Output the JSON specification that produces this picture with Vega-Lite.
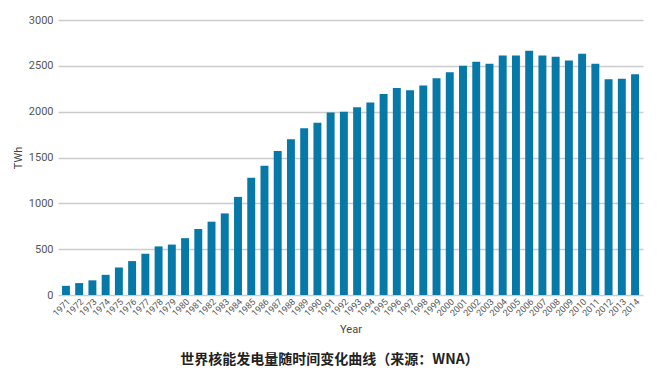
{
  "$schema": "https://vega.github.io/schema/vega-lite/v6.json",
  "width": 585,
  "height": 275,
  "autosize": "none",
  "padding": {"left": 58, "top": 20, "right": 21, "bottom": 97},
  "background": "white",
  "config": {"view": {"stroke": null}, "font": "Roboto"},
  "title": {
    "text": "世界核能发电量随时间变化曲线（来源：WNA）",
    "orient": "bottom",
    "anchor": "middle",
    "font": "Noto Sans CJK SC",
    "fontSize": 14,
    "fontWeight": "bold",
    "color": "#222222",
    "offset": 18,
    "dx": -21
  },
  "data": {
    "values": [
      {"Year": "1971", "TWh": 100}, {"Year": "1972", "TWh": 130}, {"Year": "1973", "TWh": 160},
      {"Year": "1974", "TWh": 220}, {"Year": "1975", "TWh": 300}, {"Year": "1976", "TWh": 370},
      {"Year": "1977", "TWh": 450}, {"Year": "1978", "TWh": 530}, {"Year": "1979", "TWh": 550},
      {"Year": "1980", "TWh": 620}, {"Year": "1981", "TWh": 720}, {"Year": "1982", "TWh": 800},
      {"Year": "1983", "TWh": 890}, {"Year": "1984", "TWh": 1070}, {"Year": "1985", "TWh": 1280},
      {"Year": "1986", "TWh": 1410}, {"Year": "1987", "TWh": 1570}, {"Year": "1988", "TWh": 1700},
      {"Year": "1989", "TWh": 1820}, {"Year": "1990", "TWh": 1880}, {"Year": "1991", "TWh": 1990},
      {"Year": "1992", "TWh": 2000}, {"Year": "1993", "TWh": 2047}, {"Year": "1994", "TWh": 2101},
      {"Year": "1995", "TWh": 2194}, {"Year": "1996", "TWh": 2259}, {"Year": "1997", "TWh": 2234},
      {"Year": "1998", "TWh": 2285}, {"Year": "1999", "TWh": 2365}, {"Year": "2000", "TWh": 2431},
      {"Year": "2001", "TWh": 2500}, {"Year": "2002", "TWh": 2544}, {"Year": "2003", "TWh": 2522},
      {"Year": "2004", "TWh": 2613}, {"Year": "2005", "TWh": 2613}, {"Year": "2006", "TWh": 2664},
      {"Year": "2007", "TWh": 2613}, {"Year": "2008", "TWh": 2598}, {"Year": "2009", "TWh": 2558},
      {"Year": "2010", "TWh": 2631}, {"Year": "2011", "TWh": 2522}, {"Year": "2012", "TWh": 2355},
      {"Year": "2013", "TWh": 2360}, {"Year": "2014", "TWh": 2409}
    ]
  },
  "mark": {"type": "bar", "color": "#0679a8"},
  "encoding": {
    "x": {
      "field": "Year",
      "type": "ordinal",
      "scale": {"paddingInner": 0.4, "paddingOuter": 0.3},
      "axis": {
        "title": "Year",
        "titleFont": "Roboto",
        "titleFontSize": 11,
        "titleFontWeight": "normal",
        "titleColor": "#444444",
        "titlePadding": 6,
        "labelAngle": -45,
        "labelFontSize": 9,
        "labelColor": "#555555",
        "labelPadding": 2,
        "ticks": false,
        "domain": false
      }
    },
    "y": {
      "field": "TWh",
      "type": "quantitative",
      "scale": {"domain": [0, 3000]},
      "axis": {
        "title": "TWh",
        "titleFont": "Roboto",
        "titleFontSize": 11,
        "titleFontWeight": "normal",
        "titleColor": "#444444",
        "titlePadding": 5,
        "values": [0, 500, 1000, 1500, 2000, 2500, 3000],
        "format": "d",
        "labelFontSize": 11,
        "labelColor": "#555555",
        "labelPadding": 5,
        "ticks": false,
        "domain": false,
        "grid": true,
        "gridColor": "#cccccc",
        "gridWidth": 1.5
      }
    }
  }
}
